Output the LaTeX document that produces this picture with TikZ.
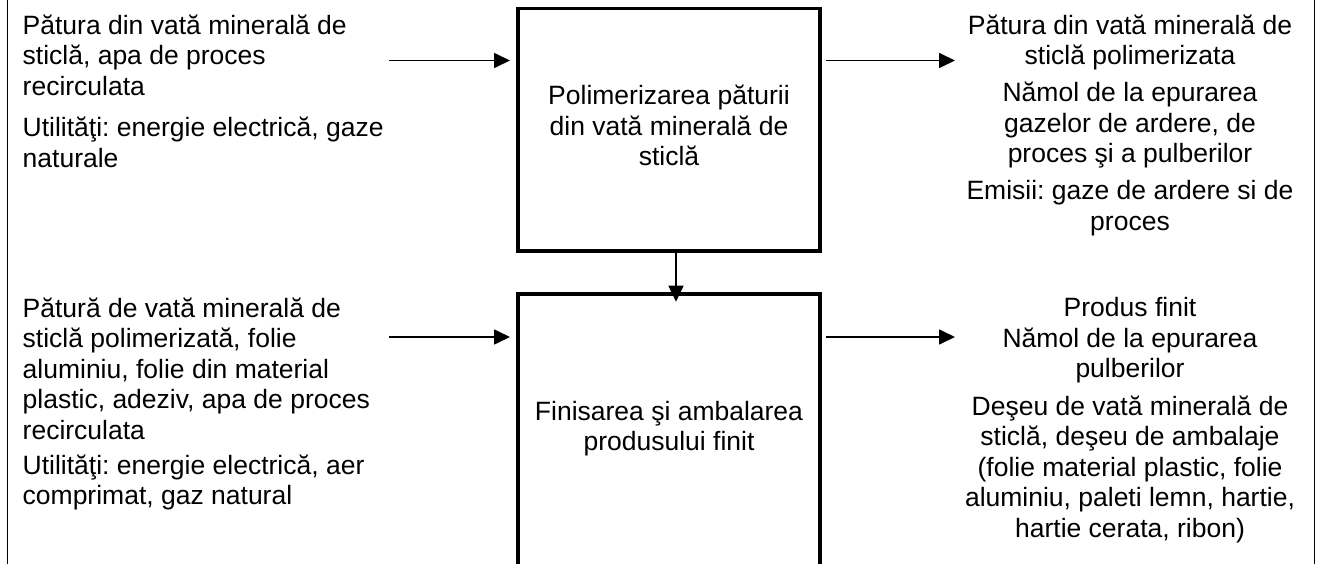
\documentclass[tikz,border=0pt]{standalone}
\usepackage{fontspec}
\setmainfont{Liberation Sans}
\usetikzlibrary{arrows.meta}
\frenchspacing

% text columns: first-line baseline is the node's base
\newcommand\leftpara[1]{\parbox[t]{380pt}{\raggedright #1}}
\newcommand\midpara[1]{\parbox[t]{400pt}{\centering #1}}

\begin{document}
\begin{tikzpicture}[x=1pt,y=-1pt,
  txt/.style={inner sep=0pt, outer sep=0pt, anchor=base,
              font=\fontsize{26.5}{30.5}\selectfont},
  ltxt/.style={txt, anchor=base west},
  procbox/.style={draw, line width=3.6pt, outer sep=0pt, inner sep=0pt,
                  minimum width=302pt},
  flow/.style={line width=1.7pt, -{Triangle[length=16pt,width=15pt]}},
  side/.style={line width=1.6pt}]

\useasboundingbox[fill=white] (0,0) rectangle (1320,564);

% side rules
\draw[side] (7.3,0) -- (7.3,564);
\draw[side] (1314.5,0) -- (1314.5,564);

% process boxes
\node[procbox, minimum height=242.5pt] (p1) at (669,129.75) {};
\node[procbox, minimum height=272pt] (p2) at (669,430) {};

\node[txt] (p1t) at (669,105) {\midpara{Polimerizarea păturii\\din vată minerală de\\sticlă}};
\node[txt] (p2t) at (669,420) {\midpara{Finisarea şi ambalarea\\produsului finit}};

% inputs, step 1
\node[ltxt] (in1a) at (22.7,34.3) {\leftpara{Pătura din vată minerală de\\sticlă, apa de proces\\recirculata}};
\node[ltxt] (in1b) at (22.7,136.7) {\leftpara{Utilităţi: energie electrică, gaze\\naturale}};

% outputs, step 1
\node[txt] (out1a) at (1130,34.3) {\midpara{Pătura din vată minerală de\\sticlă polimerizata}};
\node[txt] (out1b) at (1130,102) {\midpara{Nămol de la epurarea\\gazelor de ardere, de\\proces şi a pulberilor}};
\node[txt] (out1c) at (1130,200) {\midpara{Emisii: gaze de ardere si de\\proces}};

% inputs, step 2
\node[ltxt] (in2a) at (22.7,317) {\leftpara{Pătură de vată minerală de\\sticlă polimerizată, folie\\aluminiu, folie din material\\plastic, adeziv, apa de proces\\recirculata}};
\node[ltxt] (in2b) at (22.7,474) {\leftpara{Utilităţi: energie electrică, aer\\comprimat, gaz natural}};

% outputs, step 2
\node[txt] (out2a) at (1130,316.7) {\midpara{Produs finit}};
\node[txt] (out2b) at (1130,347) {\midpara{Nămol de la epurarea\\pulberilor}};
\node[txt] (out2c) at (1130,415) {\midpara{Deşeu de vată minerală de\\sticlă, deşeu de ambalaje\\(folie material plastic, folie\\aluminiu, paleti lemn, hartie,\\hartie cerata, ribon)}};

% connector end points
\coordinate (src1) at (389,60.5);
\coordinate (dst1) at (955,60.5);
\coordinate (src2) at (389,337);
\coordinate (dst2) at (955,337);
\coordinate (drop) at ([xshift=7pt]p1.south);

% flows
\draw[flow, shorten >=8pt] (src1) -- (src1 -| p1.west);
\draw[flow, shorten <=6pt] (dst1 -| p1.east) -- (dst1);
\draw[flow, shorten >=8pt] (src2) -- (src2 -| p2.west);
\draw[flow, shorten <=6pt] (dst2 -| p2.east) -- (dst2);
\draw[flow, shorten >=-7.7pt] (drop) -- (drop |- p2.north);

\end{tikzpicture}
\end{document}
